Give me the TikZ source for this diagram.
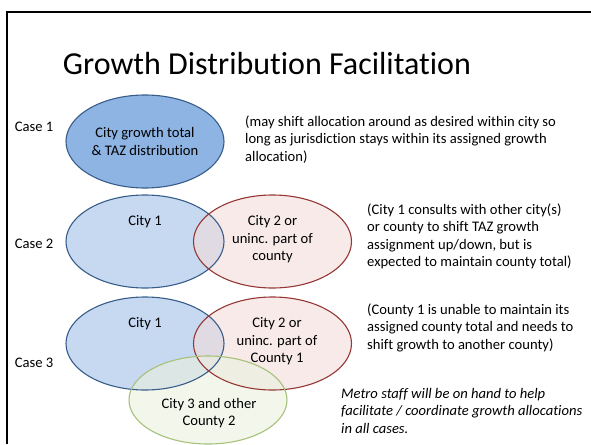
\documentclass[tikz,border=0pt]{standalone}
\usepackage{fontspec}
\setmainfont{Carlito}[Ligatures=CommonOff]
\usepackage{xcolor}
\usetikzlibrary{shapes.geometric}
\definecolor{fillA}{HTML}{8EB4E3}
\definecolor{lineA}{HTML}{385D8A}
\definecolor{fillB}{HTML}{C6D9F1}
\definecolor{fillR}{HTML}{F2DCDB}
\definecolor{lineR}{HTML}{953735}
\definecolor{fillG}{HTML}{EBF1DE}
\definecolor{lineG}{HTML}{A7C17A}
\newcommand{\txt}[1]{\fontsize{14.6}{17.5}\selectfont #1}
\tikzset{oval/.style={ellipse,inner sep=0pt,minimum width=158pt,minimum height=93pt,
                      line width=1.1pt},
         lab/.style={inner sep=0pt,align=center,font=\txt{}},
         note/.style={inner sep=0pt,align=left,anchor=west,font=\txt{}}
        }

\begin{document}
\begin{tikzpicture}[x=1pt,y=-1pt]
 \useasboundingbox (0,0) rectangle (591,444);
 \draw[line width=2pt] (7,444) -- (7,12) -- (591,12);

 \draw (267,64) node[inner sep=0pt,font=\fontsize{32}{38}\selectfont] (T)
              {Growth Distribution Facilitation};

 % case 1
 \draw (34,127) node[lab] (L1) {Case 1};
 \draw (145,141.5) node[oval,draw=lineA,fill=fillA,lab] (A)
              {City growth total\\ \& TAZ distribution};
 \draw (245,139.5) node[note] (N1)
              {(may shift allocation around as desired within city so\\
               long as jurisdiction stays within its assigned growth\\
               allocation)};

 % case 2
 \draw (34,244) node[lab] (L2) {Case 2};
 \draw (145,241.5) node[oval,fill=fillB] (B2) {};
 \draw (272.5,241.5) node[oval,fill=fillR,fill opacity=0.6] (R2) {};
 \draw[lineA,line width=1.1pt] (B2.center) ellipse[x radius=79pt,y radius=46.5pt];
 \draw[lineR,line width=1.1pt] (R2.center) ellipse[x radius=79pt,y radius=46.5pt];
 \draw (145,222) node[lab] (TB2) {City 1};
 \draw (272.5,239.5) node[lab] (TR2) {City 2 or\\ uninc. part of\\ county};
 \draw (367,236.5) node[note] (N2)
              {(City 1 consults with other city(s)\\
               or county to shift TAZ growth\\
               assignment up/down, but is\\
               expected to maintain county total)};

 % case 3
 \draw (34,363) node[lab] (L3) {Case 3};
 \draw (145,343.5) node[oval,fill=fillB] (B3) {};
 \draw (272.5,343.5) node[oval,fill=fillR,fill opacity=0.6] (R3) {};
 \draw (208,400) node[oval,minimum height=88pt,fill=fillG,fill opacity=0.6] (G3) {};
 \draw[lineA,line width=1.1pt] (B3.center) ellipse[x radius=79pt,y radius=46.5pt];
 \draw[lineR,line width=1.1pt] (R3.center) ellipse[x radius=79pt,y radius=46.5pt];
 \draw[lineG,line width=1.1pt] (G3.center) ellipse[x radius=79pt,y radius=44pt];
 \draw (145,324) node[lab] (TB3) {City 1};
 \draw (277,341.5) node[lab] (TR3) {City 2 or\\ uninc. part of\\ County 1};
 \draw (209,413) node[lab] (TG3) {City 3 and other\\ County 2};
 \draw (367,327.5) node[note] (N3)
              {(County 1 is unable to maintain its\\
               assigned county total and needs to\\
               shift growth to another county)};

 \draw (341,410.5) node[note,font=\txt{\itshape}] (M)
              {Metro staff will be on hand to help\\
               facilitate / coordinate growth allocations\\
               in all cases.};
\end{tikzpicture}
\end{document}
